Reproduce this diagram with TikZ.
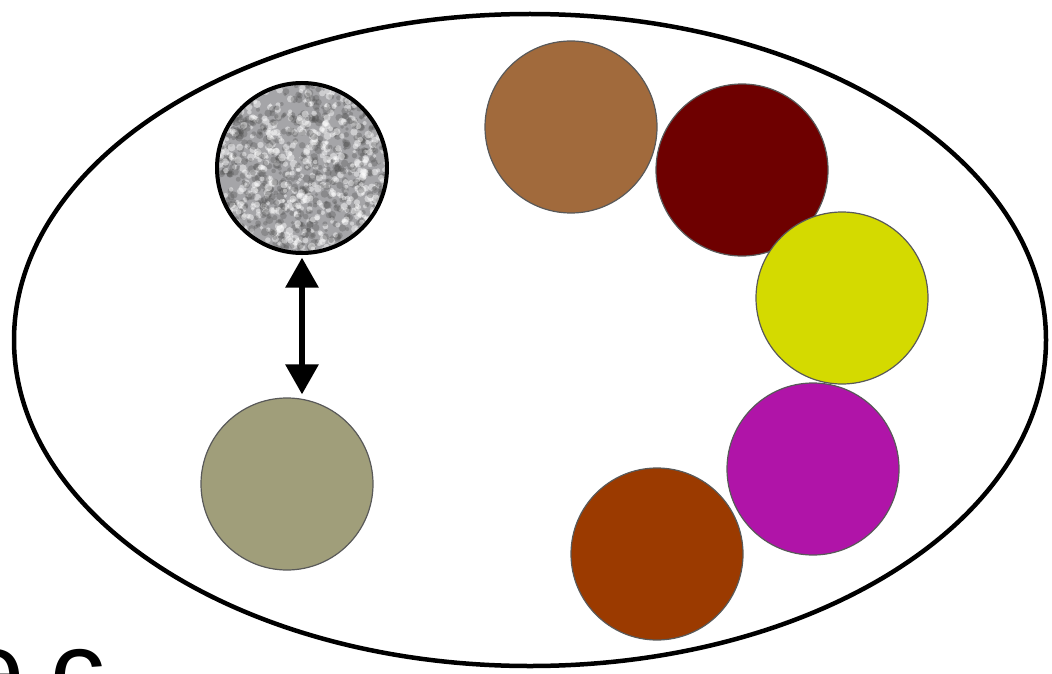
\documentclass[tikz,border=0pt]{standalone}
\usepackage{fontspec}
\setmainfont{Liberation Sans}
\usetikzlibrary{arrows.meta,calc}
\definecolor{tan}{RGB}{161,106,60}
\definecolor{wine}{RGB}{110,0,0}
\definecolor{lemon}{RGB}{212,218,0}
\definecolor{plum}{RGB}{176,20,168}
\definecolor{rust}{RGB}{155,58,0}
\definecolor{sage}{RGB}{160,158,122}
\definecolor{stone}{RGB}{165,165,168}
\begin{document}
\begin{tikzpicture}[x=1pt, y=-1pt,
		ball/.style={circle, inner sep=0pt, minimum size=172pt, draw=black!65, line width=1.2pt}]
	\useasboundingbox (0,0) rectangle (1052,674);
	\clip (0,0) rectangle (1052,674);

	% outer set
	\draw[line width=4.5pt] (530,340) ellipse (516 and 326);

	% pair on the left
	\node[ball, fill=stone, draw=none, minimum size=170pt] (noise) at (302,168) {};
	\begin{scope}
		\clip (noise.center) circle (85);
		\pgfmathsetseed{42}
		\foreach \i in {1,...,1400}{
			\pgfmathsetmacro\dx{88*rand}
			\pgfmathsetmacro\dy{88*rand}
			\pgfmathsetmacro\rr{1.8+2.2*rnd}
			\pgfmathsetmacro\sh{int(100*rnd)}
			\ifnum\sh>55
				\fill[white, opacity=0.45] ($(noise.center)+(\dx,\dy)$) circle (\rr);
			\else
				\fill[black!70, opacity=0.3] ($(noise.center)+(\dx,\dy)$) circle (\rr);
			\fi
		}
	\end{scope}
	\draw[line width=4pt] (noise.center) circle (85);

	\node[ball, fill=sage] (olive) at (287,484) {};

	\draw[line width=6pt, {Triangle[length=30pt, width=32pt]}-{Triangle[length=30pt, width=32pt]}]
		([yshift=-4]noise.south) -- ([yshift=3]noise.south |- olive.north);

	% arrangement of coloured circles
	\node[ball, fill=tan] (sand) at (571,127) {};
	\node[ball, fill=wine] (claret) at (742,170) {};
	\node[ball, fill=lemon] (yolk) at (842,298) {};
	\node[ball, fill=plum] (fuchsia) at (813,469) {};
	\node[ball, fill=rust] (copper) at (657,554) {};

	% cut-off caption
	\node[anchor=base west, inner sep=0pt, font=\fontsize{110}{120}\selectfont] (caption) at (-37,708) {e\hspace{-4pt} c};
\end{tikzpicture}
\end{document}
